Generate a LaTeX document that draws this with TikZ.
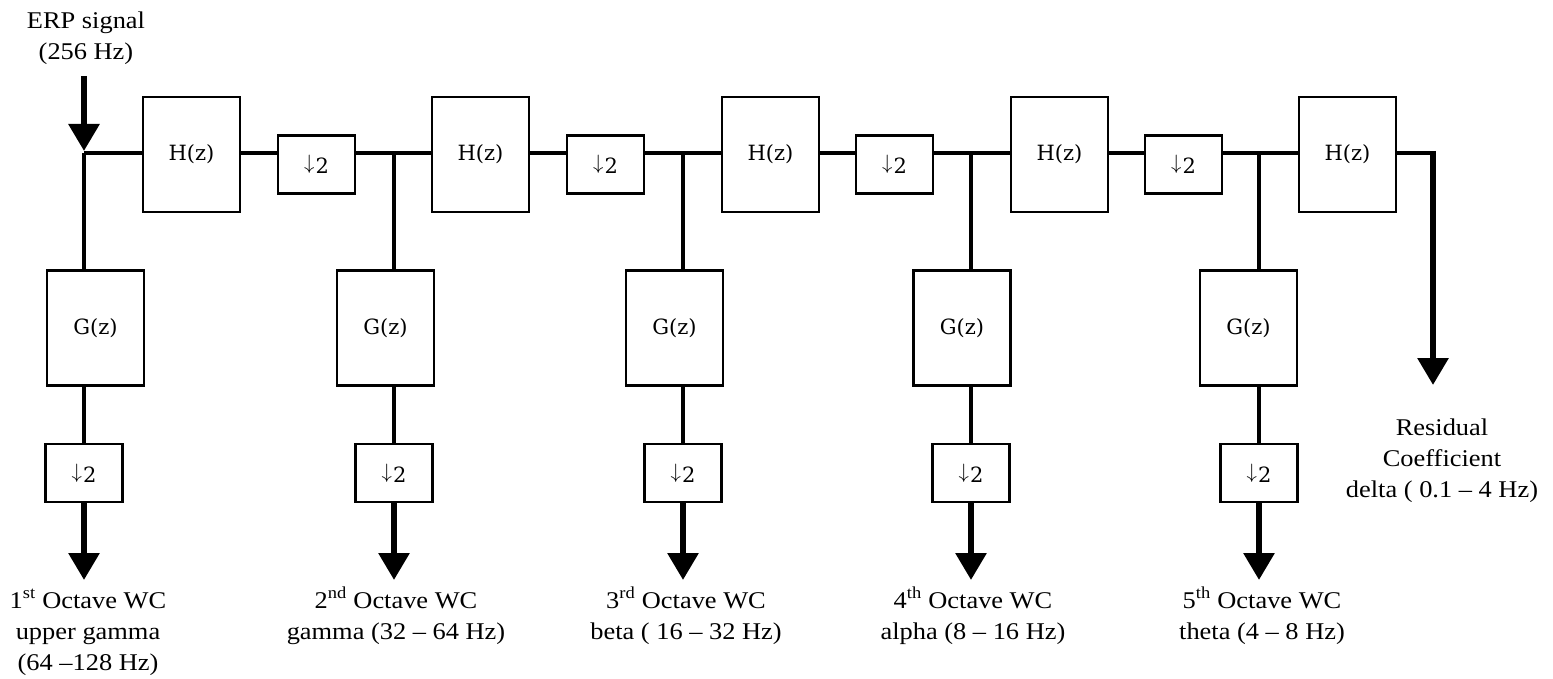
\documentclass[tikz,border=0pt]{standalone}
\usepackage{fontspec}
\setmainfont{Liberation Serif}[FakeStretch=1.1]
\newfontfamily\boxfont{DejaVu Serif}
\usetikzlibrary{arrows.meta}
\newcommand{\dsamp}{\raisebox{0.19em}{$\downarrow$}\kern1pt 2}
\tikzset{
  lbl/.style={font=\fontsize{24}{31}\selectfont, align=center, inner sep=0pt, anchor=base},
  filt/.style={draw, line width=2.5pt, minimum width=97pt, minimum height=115pt, inner sep=0pt, font=\boxfont\fontsize{21}{22}\selectfont},
  dec/.style={draw, line width=2.5pt, minimum width=77pt, minimum height=58pt, inner sep=0pt, font=\boxfont\fontsize{21}{22}\selectfont},
  wire/.style={line width=4pt},
  outarrow/.style={line width=6pt, -{Triangle[width=30pt,length=27pt]}},
}
\begin{document}
\begin{tikzpicture}[x=1pt,y=-1pt]
\useasboundingbox (0,0) rectangle (1553,679);
% junctions
\coordinate (src) at (84,76);
\coordinate (j1) at (84,153);
\coordinate (j2) at (394,153);
\coordinate (j3) at (683,153);
\coordinate (j4) at (971,153);
\coordinate (j5) at (1259,153);
\coordinate (rc) at (1433,153);
\coordinate (rt) at (1433,385);
\coordinate (o1) at (84,580);
\coordinate (o2) at (394,580);
\coordinate (o3) at (683,580);
\coordinate (o4) at (971,580);
\coordinate (o5) at (1259,580);
% H filters
\node[filt] (h1) at (191.5,154.5) {H(z)};
\node[filt] (h2) at (480.5,154.5) {H(z)};
\node[filt] (h3) at (770.5,154.5) {H(z)};
\node[filt] (h4) at (1059.5,154.5) {H(z)};
\node[filt] (h5) at (1347.5,154.5) {H(z)};
% decimators on main line
\node[dec] (d1) at (316.5,164.5) {\dsamp};
\node[dec] (d2) at (605.5,164.5) {\dsamp};
\node[dec] (d3) at (894.5,164.5) {\dsamp};
\node[dec] (d4) at (1183.5,164.5) {\dsamp};
% G filters
\node[filt] (g1) at (95.5,328) {G(z)};
\node[filt] (g2) at (385.5,328) {G(z)};
\node[filt] (g3) at (674.5,328) {G(z)};
\node[filt] (g4) at (962,328) {G(z)};
\node[filt] (g5) at (1248.5,328) {G(z)};
% decimators on branches
\node[dec] (b1) at (84,473) {\dsamp};
\node[dec] (b2) at (394,473) {\dsamp};
\node[dec] (b3) at (683,473) {\dsamp};
\node[dec] (b4) at (971,473) {\dsamp};
\node[dec] (b5) at (1259,473) {\dsamp};
% input
\draw[outarrow] (src) -- ([yshift=2pt]j1);
% main line
\draw[wire] (j1) -- (j1 -| h1.west);
\draw[wire] (j1 -| h1.east) -- (j1 -| d1.west);
\draw[wire] (j1 -| d1.east) -- (j2) -- (j2 -| h2.west);
\draw[wire] (j2 -| h2.east) -- (j2 -| d2.west);
\draw[wire] (j2 -| d2.east) -- (j3) -- (j3 -| h3.west);
\draw[wire] (j3 -| h3.east) -- (j3 -| d3.west);
\draw[wire] (j3 -| d3.east) -- (j4) -- (j4 -| h4.west);
\draw[wire] (j4 -| h4.east) -- (j4 -| d4.west);
\draw[wire] (j4 -| d4.east) -- (j5) -- (j5 -| h5.west);
\draw[wire] (j5 -| h5.east) -- (rc);
\draw[outarrow] ([yshift=2pt]rc) -- (rt);
% branches
\foreach \i in {1,...,5}{
  \draw[wire] (j\i) -- (j\i |- g\i.north);
  \draw[wire] (j\i |- g\i.south) -- (b\i.north);
  \draw[outarrow] (b\i.south) -- (o\i);
}
% labels (anchor = baseline of the last line)
\node[lbl] (erp) at (86,60) {ERP signal\\(256 Hz)};
\node[lbl] (l1) at (88,670) {1\textsuperscript{st} Octave WC\\upper gamma\\(64 –128 Hz)};
\node[lbl] (l2) at (396,639) {2\textsuperscript{nd} Octave WC\\gamma (32 – 64 Hz)};
\node[lbl] (l3) at (686,639) {3\textsuperscript{rd} Octave WC\\beta ( 16 – 32 Hz)};
\node[lbl] (l4) at (973,639) {4\textsuperscript{th} Octave WC\\alpha (8 – 16 Hz)};
\node[lbl] (l5) at (1262,639) {5\textsuperscript{th} Octave WC\\theta (4 – 8 Hz)};
\node[lbl] (res) at (1442,497) {Residual\\Coefficient\\delta ( 0.1 – 4 Hz)};
\end{tikzpicture}
\end{document}
